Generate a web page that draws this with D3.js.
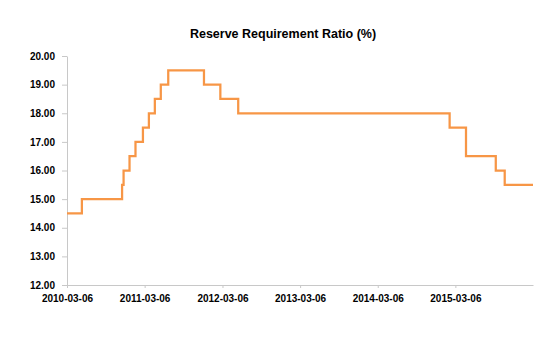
<!DOCTYPE html>
<html>
<head>
<meta charset="utf-8">
<script src="https://cdn.jsdelivr.net/npm/d3@7/dist/d3.min.js"></script>
<style>
  body { margin: 0; background: #fff; }
  svg { display: block; }
  text { font-family: "Liberation Sans", Arial, sans-serif; font-weight: bold; fill: #000; }
</style>
</head>
<body>
<svg id="chart" width="552" height="361"></svg>
<script>
// Step-change dates and the ratio (%) in force from each date
const dates = ["2010-03-06","2010-05-15","2010-11-20","2010-11-27","2010-12-25","2011-01-22",
  "2011-02-26","2011-03-26","2011-04-23","2011-05-21","2011-06-25","2011-12-10","2012-02-25",
  "2012-05-19","2015-02-07","2015-04-25","2015-09-12","2015-10-24","2016-03-05"];
const values = [14.5,15.0,15.5,16.0,16.5,17.0,17.5,18.0,18.5,19.0,19.5,19.0,18.5,18.0,17.5,16.5,16.0,15.5,15.5];
const xTickLabels = ["2010-03-06","2011-03-06","2012-03-06","2013-03-06","2014-03-06","2015-03-06"];
const yTicks = [12,13,14,15,16,17,18,19,20];
const title = "Reserve Requirement Ratio (%)";

const parse = d3.timeParse("%Y-%m-%d");
const data = dates.map((d, i) => ({ date: parse(d), value: values[i] }));

const svg = d3.select("#chart");
const mLeft = 67, mRight = 533, mTop = 56, mBottom = 285;

const x = d3.scaleTime()
  .domain([parse("2010-03-06"), parse("2016-03-05")])
  .range([mLeft, mRight]);
const y = d3.scaleLinear().domain([12, 20]).range([mBottom, mTop]);

// Title
svg.append("text")
  .attr("x", 283).attr("y", 37.5)
  .attr("text-anchor", "middle")
  .style("font-size", "12.5px")
  .text(title);

// Y axis
const yAxis = svg.append("g")
  .attr("transform", `translate(${mLeft},0)`)
  .call(d3.axisLeft(y).tickValues(yTicks).tickFormat(d3.format(".2f")).tickSize(5).tickSizeOuter(0).tickPadding(7));
yAxis.select(".domain").attr("stroke", "#c8c8c8");
yAxis.selectAll(".tick line").attr("stroke", "#c8c8c8");
yAxis.selectAll(".tick text").style("font-size", "10px").attr("fill", "#000");

// X axis
const xAxis = svg.append("g")
  .attr("transform", `translate(0,${mBottom})`)
  .call(d3.axisBottom(x).tickValues(xTickLabels.map(parse)).tickFormat(d3.timeFormat("%Y-%m-%d")).tickSize(3).tickSizeOuter(0).tickPadding(7));
xAxis.select(".domain").attr("stroke", "#c8c8c8");
xAxis.selectAll(".tick line").attr("stroke", "#c8c8c8");
xAxis.selectAll(".tick text").style("font-size", "10px").attr("fill", "#000");

// Line
const line = d3.line()
  .x(d => x(d.date))
  .y(d => y(d.value))
  .curve(d3.curveStepAfter);

svg.append("path")
  .datum(data)
  .attr("fill", "none")
  .attr("stroke", "#f79646")
  .attr("stroke-width", 2.25)
  .attr("stroke-linejoin", "miter")
  .attr("d", line);
</script>
</body>
</html>
